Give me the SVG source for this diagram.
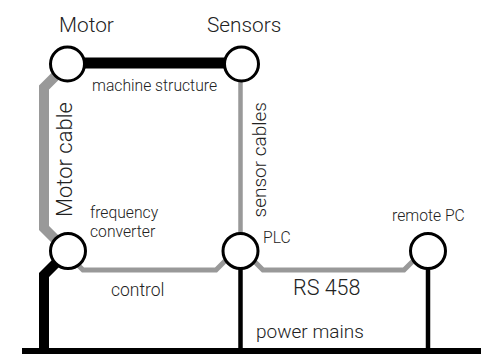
<svg xmlns="http://www.w3.org/2000/svg" width="481" height="354" viewBox="0 0 481 354">
<style>
  .node { fill: #fff; stroke: #000; stroke-width: 3; }
  .gray { fill: none; stroke: #999; stroke-linejoin: miter; }
  .blk { fill: none; stroke: #000; }
  text { font-family: Roboto, "Liberation Sans", sans-serif; font-weight: 300; fill: #222; }
  .big { font-size: 20.8px; }
  .sm { font-size: 15.7px; }
</style>
<rect width="481" height="354" fill="#fff"/>
<g id="connectors">
  <line class="blk" x1="67.5" y1="63" x2="241.5" y2="63" stroke-width="11"/>
  <path class="gray" d="M67.5,64 L44,87.5 L44,228 L68,252" stroke-width="10"/>
  <path class="blk" d="M68,251 L44,275 L44,352" stroke-width="10"/>
  <line class="gray" x1="240.5" y1="64" x2="240.5" y2="251" stroke-width="4.5"/>
  <path class="gray" d="M74,261 L83,270 L216,270 L226,260" stroke-width="5"/>
  <path class="gray" d="M253,260 L263,270 L404,270 L414,260" stroke-width="5"/>
  <line class="blk" x1="240.5" y1="251" x2="240.5" y2="351" stroke-width="4.5"/>
  <line class="blk" x1="428" y1="251" x2="428" y2="351" stroke-width="4.5"/>
  <line class="blk" x1="22" y1="351.5" x2="481" y2="351.5" stroke-width="7"/>
</g>
<g id="motor">
  <circle class="node" cx="67.5" cy="64" r="17"/>
  <text class="big" x="59" y="31.5">Motor</text>
</g>
<g id="sensors">
  <circle class="node" cx="241.5" cy="64" r="17"/>
  <text class="big" x="207" y="31.5">Sensors</text>
</g>
<g id="frequency-converter">
  <circle class="node" cx="68" cy="251" r="17.5"/>
  <text class="sm" x="90" y="218">frequency</text>
  <text class="sm" x="90" y="236.5">converter</text>
</g>
<g id="plc">
  <circle class="node" cx="240.5" cy="251" r="17.5"/>
  <text class="sm" x="263" y="242.5">PLC</text>
</g>
<g id="remote-pc">
  <circle class="node" cx="428" cy="251" r="17.5"/>
  <text class="sm" x="392" y="220.5">remote PC</text>
</g>
<g id="labels">
  <text class="sm" x="92" y="90.5">machine structure</text>
  <text font-size="22" transform="translate(71.5,217) rotate(-90)">Motor cable</text>
  <text font-size="19" transform="translate(266,217.5) rotate(-90)">sensor cables</text>
  <text font-size="17.5" x="111" y="296">control</text>
  <text font-size="21.5" x="293" y="295">RS 458</text>
  <text font-size="19" x="256" y="337.5">power mains</text>
</g>
</svg>
